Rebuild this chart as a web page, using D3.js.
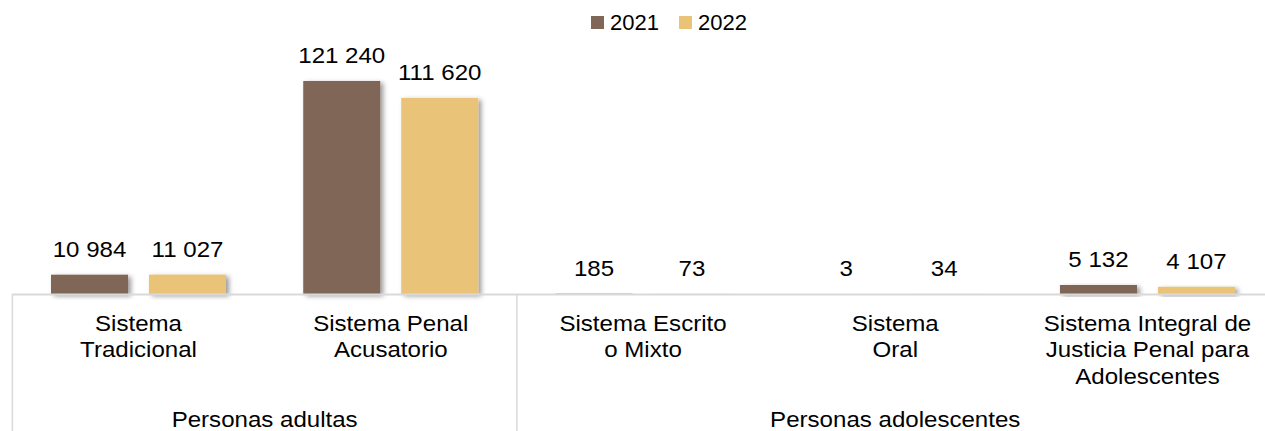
<!DOCTYPE html>
<html>
<head>
<meta charset="utf-8">
<script src="https://cdn.jsdelivr.net/npm/d3@7"></script>
<style>
  html, body { margin: 0; padding: 0; background: #fff; }
  svg { display: block; font-family: "Liberation Sans", Arial, sans-serif; }
</style>
</head>
<body>
<svg id="chart" width="1265" height="431"></svg>
<script>
const categories = [
  ["Sistema", "Tradicional"],
  ["Sistema Penal", "Acusatorio"],
  ["Sistema Escrito", "o Mixto"],
  ["Sistema", "Oral"],
  ["Sistema Integral de", "Justicia Penal para", "Adolescentes"]
];
const categoryKeys = ["trad", "acus", "escr", "oral", "integ"];
const seriesNames = ["2021", "2022"];
const values2021 = [10984, 121240, 185, 3, 5132];
const values2022 = [11027, 111620, 73, 34, 4107];
const groups = ["Personas adultas", "Personas adolescentes"];
const groupSizes = [2, 3];
const colors = ["#806657", "#e9c478"];

const svg = d3.select("#chart");
const fmt = v => d3.format(",")(v).replace(/,/g, " ");
const FS = 22.5, SX = 1.07;

const x0 = d3.scaleBand().domain(categoryKeys).range([12.4, 1273.6]).paddingInner(0).paddingOuter(0);
const x1 = d3.scaleBand().domain(seriesNames).range([38.6, 213.6]).paddingInner(0.214).paddingOuter(0);
const y = d3.scaleLinear().domain([0, 140000]).range([294, 48]);
const color = d3.scaleOrdinal().domain(seriesNames).range(colors);

const defs = svg.append("defs");
const f = defs.append("filter").attr("id", "shadow").attr("x", "-20%").attr("y", "-20%").attr("width", "150%").attr("height", "150%");
f.append("feDropShadow").attr("dx", 3).attr("dy", 2).attr("stdDeviation", 2.5)
  .attr("flood-color", "#000").attr("flood-opacity", 0.4);

const data = categoryKeys.map((k, i) => ({
  key: k, label: categories[i],
  vals: [{s: "2021", v: values2021[i]}, {s: "2022", v: values2022[i]}]
}));

const g = svg.selectAll("g.cat").data(data).join("g").attr("class", "cat")
  .attr("transform", d => `translate(${x0(d.key)},0)`);

g.selectAll("rect").data(d => d.vals).join("rect")
  .attr("x", d => x1(d.s)).attr("width", x1.bandwidth())
  .attr("y", d => y(d.v)).attr("height", d => y(0) - y(d.v))
  .attr("fill", d => color(d.s)).attr("filter", "url(#shadow)");

g.selectAll("text.val").data(d => d.vals).join("text").attr("class", "val")
  .attr("transform", d => `translate(${x1(d.s) + x1.bandwidth() / 2},${y(d.v) - 17.5}) scale(${SX},1)`)
  .attr("text-anchor", "middle").attr("font-size", FS).attr("fill", "#000")
  .text(d => fmt(d.v));

// axis baseline (drawn over bar bottoms)
svg.append("line").attr("x1", x0.range()[0]).attr("x2", x0.range()[1])
  .attr("y1", y(0) + 0.5).attr("y2", y(0) + 0.5).attr("stroke", "#d9d9d9").attr("stroke-width", 2);

// group separators
let idx = 0;
const sepIdx = [0];
groupSizes.forEach(n => { idx += n; sepIdx.push(idx); });
sepIdx.forEach(i => {
  const xx = i < categoryKeys.length ? x0(categoryKeys[i]) : x0.range()[1];
  svg.append("line").attr("x1", xx).attr("x2", xx).attr("y1", y(0)).attr("y2", 431)
    .attr("stroke", "#d9d9d9").attr("stroke-width", 1.5);
});

const lineYs = [331, 357.5, 384];
g.each(function(d) {
  const t = d3.select(this).append("text").attr("text-anchor", "middle")
    .attr("transform", `translate(${x0.bandwidth() / 2},0) scale(${SX},1)`)
    .attr("font-size", FS).attr("fill", "#000");
  d.label.forEach((ln, j) => {
    t.append("tspan").attr("x", 0).attr("y", lineYs[j]).text(ln);
  });
});

// group labels
let start = 0;
groups.forEach((gName, i) => {
  const a = x0(categoryKeys[start]);
  const endI = start + groupSizes[i];
  const b = endI < categoryKeys.length ? x0(categoryKeys[endI]) : x0.range()[1];
  svg.append("text").attr("transform", `translate(${(a + b) / 2},427) scale(${SX},1)`)
    .attr("text-anchor", "middle")
    .attr("font-size", FS).attr("fill", "#000").text(gName);
  start = endI;
});

// legend
const legendPos = [591, 679];
seriesNames.forEach((s, i) => {
  svg.append("rect").attr("x", legendPos[i]).attr("y", 16).attr("width", 13).attr("height", 13)
    .attr("fill", color(s));
  svg.append("text").attr("x", legendPos[i] + 19).attr("y", 29.5).attr("font-size", 22)
    .attr("fill", "#000").text(s);
});
</script>
</body>
</html>
